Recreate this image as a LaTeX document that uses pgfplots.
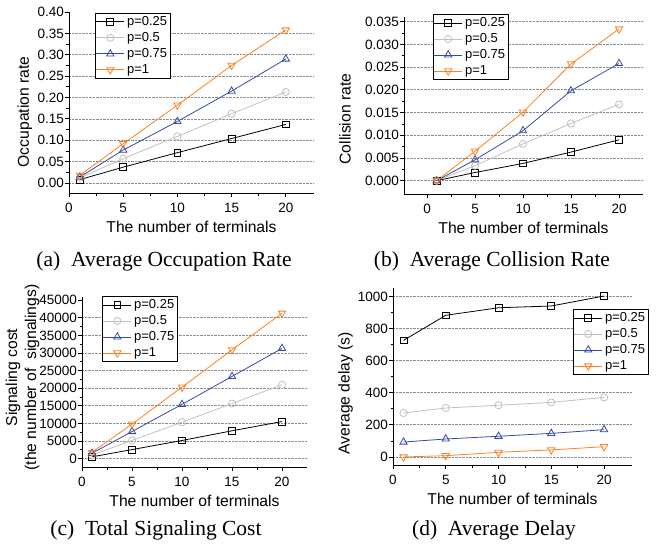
\documentclass[border=0pt]{standalone}
\usepackage{fontspec}
\setmainfont{Liberation Sans}
\newfontfamily\capfont{Liberation Serif}
\usepackage{pgfplots}
\pgfplotsset{compat=1.18}

\definecolor{cgray}{RGB}{192,192,192}
\definecolor{cblue}{RGB}{55,75,165}
\definecolor{corange}{RGB}{255,128,30}

\pgfplotsset{
  panel/.style={
    scale only axis,
    axis x line*=bottom, axis y line*=left,
    axis line style={-, line width=0.8pt},
    xmin=0, xmax=22.6,
    xtick={0,5,10,15,20}, minor x tick num=1, minor y tick num=1,
    tick align=outside,
    major tick length=4pt, minor tick length=2.5pt,
    tick style={black, line width=0.8pt},
    ticklabel style={font=\fontsize{13.5}{14}\selectfont},
    xticklabel style={yshift=-2.5pt},
    yticklabel style={xshift=2.5pt},
    /pgf/number format/assume math mode=true,
    /pgf/number format/1000 sep={},
    scaled y ticks=false,
    label style={font=\fontsize{15.7}{19}\selectfont},
    grid style={densely dotted, black!45, line width=0.7pt},
    ymajorgrids,
    clip=false,
    legend style={draw=black, line width=0.8pt,
      font=\fontsize{13}{14}\selectfont, anchor=north west,
      cells={anchor=west}, inner sep=0.5pt, row sep=0pt, column sep=0pt,
      nodes={text height=9.6pt, text depth=2.8pt, inner ysep=1.8pt, inner xsep=2.4pt}},
    legend image code/.code={\draw[mark repeat=2,mark phase=2,##1] plot coordinates {(0pt,0pt) (14pt,0pt) (28pt,0pt)};},
    xlabel={The number of terminals},
    xlabel style={at={(axis description cs:0.5,0)}, anchor=center, yshift=-34pt},
  },
  s1/.style={black, line width=0.8pt, mark=square, mark size=3.4pt, mark options={solid, fill=white}},
  s2/.style={cgray, line width=0.8pt, mark=o, mark size=3.6pt, mark options={solid, fill=white}},
  s3/.style={cblue, line width=0.8pt, mark=triangle, mark size=4.2pt, mark options={solid, fill=white}},
  s4/.style={corange, line width=0.8pt, mark=triangle, mark size=4.2pt, mark options={solid, fill=white, rotate=180}},
}

\begin{document}
\begin{tikzpicture}
\useasboundingbox (0,0) rectangle (667pt,550pt);

% (a) occupation rate
\begin{axis}[panel,
  at={(69pt,357pt)}, anchor=south west,
  width=245pt, height=181pt,
  ymin=-0.0234, ymax=0.40,
  ytick={0,0.05,0.1,0.15,0.2,0.25,0.3,0.35},
  extra y ticks={0.4}, extra y tick style={grid=none},
  yticklabel style={/pgf/number format/.cd, fixed, fixed zerofill, precision=2},
  ylabel={Occupation rate},
  ylabel style={at={(axis description cs:-0.18,0.448)}, anchor=center},
  legend style={at={(0.106,0.995)}},
]
\addplot[s1] coordinates {(1,0.008) (5,0.037) (10,0.071) (15,0.104) (20,0.137)};
\addplot[s2] coordinates {(1,0.012) (5,0.057) (10,0.109) (15,0.162) (20,0.213)};
\addplot[s3] coordinates {(1,0.014) (5,0.077) (10,0.144) (15,0.215) (20,0.290)};
\addplot[s4] coordinates {(1,0.018) (5,0.092) (10,0.182) (15,0.275) (20,0.358)};
\legend{p=0.25, p=0.5, p=0.75, p=1}
\end{axis}

% (b) collision rate
\begin{axis}[panel,
  at={(404pt,356pt)}, anchor=south west,
  width=239pt, height=177.3pt,
  xmin=-2.4, xmax=22.5,
  ymin=-0.00293, ymax=0.0361,
  ytick={0,0.005,0.01,0.015,0.02,0.025,0.03,0.035},
  yticklabel style={/pgf/number format/.cd, fixed, fixed zerofill, precision=3},
  ylabel={Collision rate},
  ylabel style={at={(axis description cs:-0.247,0.423)}, anchor=center},
  legend style={at={(0.121,1.015)}},
]
\addplot[s1] coordinates {(1,0) (5,0.0018) (10,0.0038) (15,0.0063) (20,0.0090)};
\addplot[s2] coordinates {(1,0) (5,0.0033) (10,0.0081) (15,0.0126) (20,0.0168)};
\addplot[s3] coordinates {(1,0) (5,0.0046) (10,0.0110) (15,0.0198) (20,0.0258)};
\addplot[s4] coordinates {(1,0) (5,0.0065) (10,0.0151) (15,0.0257) (20,0.0334)};
\legend{p=0.25, p=0.5, p=0.75, p=1}
\end{axis}

% (c) signaling cost
\begin{axis}[panel,
  at={(82pt,82.7pt)}, anchor=south west,
  width=225pt, height=170.6pt,
  xmax=22.5,
  ymin=-2470, ymax=46000,
  ytick={0,5000,10000,15000,20000,25000,30000,35000,40000},
  extra y ticks={45000}, extra y tick style={grid=none},
  yticklabel style={/pgf/number format/.cd, fixed, 1000 sep={}},
  ylabel={Signaling cost\\(the number of\ \ signalings)},
  ylabel style={at={(axis description cs:-0.264,0.526)}, anchor=center, align=center},
  legend style={at={(0.089,1.004)}},
]
\addplot[s1] coordinates {(1,500) (5,2560) (10,5150) (15,7900) (20,10530)};
\addplot[s2] coordinates {(1,1000) (5,5150) (10,10340) (15,15650) (20,20970)};
\addplot[s3] coordinates {(1,1500) (5,7700) (10,15400) (15,23350) (20,31300)};
\addplot[s4] coordinates {(1,1800) (5,9800) (10,20300) (15,30900) (20,41300)};
\legend{p=0.25, p=0.5, p=0.75, p=1}
\end{axis}

% (d) average delay
\begin{axis}[panel,
  at={(393pt,85pt)}, anchor=south west,
  width=239pt, height=177pt,
  xmax=22.65,
  ymin=-50, ymax=1052,
  ytick={0,200,400,600,800,1000},
  ylabel={Average delay (s)},
  ylabel style={at={(axis description cs:-0.198,0.405)}, anchor=center},
  legend style={at={(0.753,0.881)}},
]
\addplot[s1] coordinates {(1,726) (5,882) (10,929) (15,940) (20,1002)};
\addplot[s2] coordinates {(1,274) (5,305) (10,322) (15,340) (20,371)};
\addplot[s3] coordinates {(1,93) (5,112) (10,129) (15,147) (20,170)};
\addplot[s4] coordinates {(1,0) (5,8) (10,29) (15,44) (20,64)};
\legend{p=0.25, p=0.5, p=0.75, p=1}
\end{axis}

\node[anchor=base, font=\capfont\fontsize{21.5}{24}\selectfont] at (164pt,284pt) {(a)\ \ Average Occupation Rate};
\node[anchor=base, font=\capfont\fontsize{21.5}{24}\selectfont] at (492pt,284pt) {(b)\ \ Average Collision Rate};
\node[anchor=base, font=\capfont\fontsize{21.5}{24}\selectfont] at (156pt,14.5pt) {(c)\ \ Total Signaling Cost};
\node[anchor=base, font=\capfont\fontsize{21.5}{24}\selectfont] at (494pt,14.5pt) {(d)\ \ Average Delay};
\end{tikzpicture}
\end{document}
